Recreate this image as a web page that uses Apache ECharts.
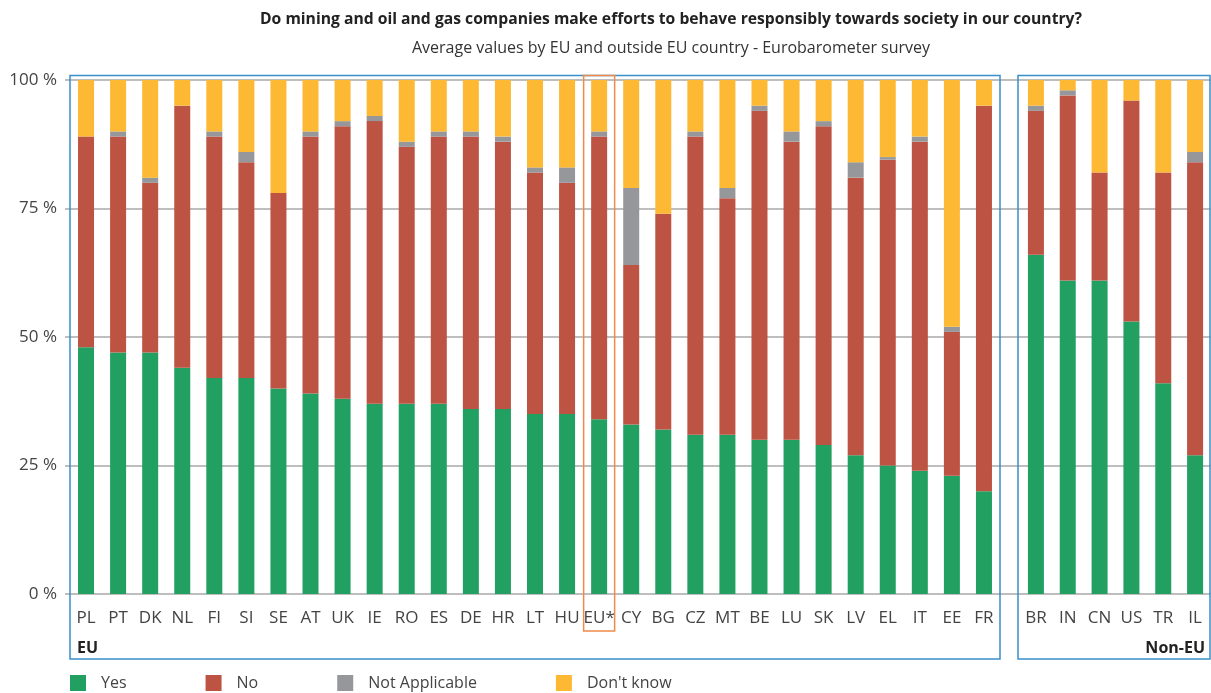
<!DOCTYPE html>
<html>
<head>
<meta charset="utf-8">
<script src="https://cdn.jsdelivr.net/npm/echarts@6/dist/echarts.min.js"></script>
<style>
  html, body { margin: 0; padding: 0; background: #fff; }
  #chart { width: 1211px; height: 693px; }
</style>
</head>
<body>
<div id="chart"></div>
<script>
// Survey answers, in percent of respondents
const euCountries = ['PL','PT','DK','NL','FI','SI','SE','AT','UK','IE','RO','ES','DE','HR','LT','HU','EU*','CY','BG','CZ','MT','BE','LU','SK','LV','EL','IT','EE','FR'];
const euYes   = [48, 47, 47, 44, 42, 42, 40, 39, 38, 37, 37, 37, 36, 36, 35, 35, 34, 33, 32, 31, 31, 30, 30, 29, 27, 25, 24, 23, 20];
const euNo    = [41, 42, 33, 51, 47, 42, 38, 50, 53, 55, 50, 52, 53, 52, 47, 45, 55, 31, 42, 58, 46, 64, 58, 62, 54, 59.5, 64, 28, 75];
const euNA    = [0, 1, 1, 0, 1, 2, 0, 1, 1, 1, 1, 1, 1, 1, 1, 3, 1, 15, 0, 1, 2, 1, 2, 1, 3, 0.5, 1, 1, 0];
const euDK    = [11, 10, 19, 5, 10, 14, 22, 10, 8, 7, 12, 10, 10, 11, 17, 17, 10, 21, 26, 10, 21, 5, 10, 8, 16, 15, 11, 48, 5];

const nonEuCountries = ['BR','IN','CN','US','TR','IL'];
const nonEuYes = [66, 61, 61, 53, 41, 27];
const nonEuNo  = [28, 36, 21, 43, 41, 57];
const nonEuNA  = [1, 1, 0, 0, 0, 2];
const nonEuDK  = [5, 2, 18, 4, 18, 14];

const answerNames = ['Yes', 'No', 'Not Applicable', "Don't know"];
const yTicks = [0, 25, 50, 75, 100];

const COLORS = ['#21a062', '#bd5342', '#96979a', '#fdb933'];
const FONT = '"Open Sans", "Noto Sans", sans-serif';
const TEXT = '#444';
const FRAME = '#3a8fc9';

const chart = echarts.init(document.getElementById('chart'));

const PLOT_TOP = 80;
const PLOT_H = 514;

function stackSeries(values, gridIdx) {
  return values.map((arr, i) => ({
    name: answerNames[i],
    type: 'bar',
    stack: 'answers' + gridIdx,
    xAxisIndex: gridIdx,
    yAxisIndex: gridIdx,
    barWidth: 16,
    itemStyle: { color: COLORS[i] },
    emphasis: { disabled: true },
    data: arr
  }));
}

const yBase = { type: 'value', min: yTicks[0], max: yTicks[yTicks.length - 1], interval: 25 };

const option = {
  animation: false,
  textStyle: { fontFamily: FONT },
  title: [
    {
      text: 'Do mining and oil and gas companies make efforts to behave responsibly towards society in our country?',
      left: 666, top: 7, textAlign: 'center',
      textStyle: { fontFamily: FONT, fontSize: 15.7, fontWeight: 'bold', color: '#222' }
    },
    {
      text: 'Average values by EU and outside EU country - Eurobarometer survey',
      left: 666, top: 35, textAlign: 'center',
      textStyle: { fontFamily: FONT, fontSize: 16, fontWeight: 'normal', color: '#333' }
    }
  ],
  legend: {
    left: 70, top: 675, padding: 0,
    itemWidth: 16, itemHeight: 16, itemGap: 79,
    icon: 'rect',
    selectedMode: false,
    data: answerNames,
    textStyle: { fontFamily: FONT, fontSize: 16, color: TEXT, padding: [0, 0, 0, 10] }
  },
  grid: [
    { left: 65, right: 0, top: PLOT_TOP, height: PLOT_H },
    { left: 70, width: 930, top: PLOT_TOP, height: PLOT_H },
    { left: 1020, width: 192, top: PLOT_TOP, height: PLOT_H }
  ],
  xAxis: [
    { gridIndex: 0, type: 'value', show: false, min: 0, max: 1 },
    {
      gridIndex: 1, type: 'category', data: euCountries,
      axisLine: { show: false }, axisTick: { show: false },
      axisLabel: { interval: 0, margin: 16, fontSize: 17, color: TEXT, fontFamily: FONT }
    },
    {
      gridIndex: 2, type: 'category', data: nonEuCountries,
      axisLine: { show: false }, axisTick: { show: false },
      axisLabel: { interval: 0, margin: 16, fontSize: 17, color: TEXT, fontFamily: FONT }
    }
  ],
  yAxis: [
    Object.assign({}, yBase, {
      gridIndex: 0,
      axisLine: { show: false }, axisTick: { show: false },
      splitLine: { show: true, lineStyle: { color: '#a9a9a9', width: 1.5 } },
      axisLabel: { formatter: '{value} %', margin: 8, fontSize: 17, color: TEXT, fontFamily: FONT }
    }),
    Object.assign({}, yBase, { gridIndex: 1, show: false, splitLine: { show: false } }),
    Object.assign({}, yBase, { gridIndex: 2, show: false, splitLine: { show: false } })
  ],
  series: [
    ...stackSeries([euYes, euNo, euNA, euDK], 1),
    ...stackSeries([nonEuYes, nonEuNo, nonEuNA, nonEuDK], 2)
  ]
};

chart.setOption(option);

// Group frames, labels and the EU-average highlight
const FRAME_TOP = 75.5;
const FRAME_BOTTOM = 659;
const euMid = chart.convertToPixel({ xAxisIndex: 1 }, 'EU*');
chart.setOption({
  graphic: [
    { type: 'rect', shape: { x: 70, y: FRAME_TOP, width: 930, height: FRAME_BOTTOM - FRAME_TOP },
      style: { fill: 'none', stroke: FRAME, lineWidth: 1.5 }, z: 10, silent: true },
    { type: 'rect', shape: { x: 1018, y: FRAME_TOP, width: 192, height: FRAME_BOTTOM - FRAME_TOP },
      style: { fill: 'none', stroke: FRAME, lineWidth: 1.5 }, z: 10, silent: true },
    { type: 'rect', shape: { x: euMid - 15.5, y: FRAME_TOP, width: 31, height: 631 - FRAME_TOP },
      style: { fill: 'none', stroke: '#f08a4b', lineWidth: 1.5 }, z: 11, silent: true },
    { type: 'text', x: 77, y: 648,
      style: { text: 'EU', font: 'bold 16px ' + FONT, fill: '#222', verticalAlign: 'middle' }, z: 12, silent: true },
    { type: 'text', x: 1205, y: 648,
      style: { text: 'Non-EU', font: 'bold 16px ' + FONT, fill: '#222', align: 'right', verticalAlign: 'middle' }, z: 12, silent: true }
  ]
});
</script>
</body>
</html>
